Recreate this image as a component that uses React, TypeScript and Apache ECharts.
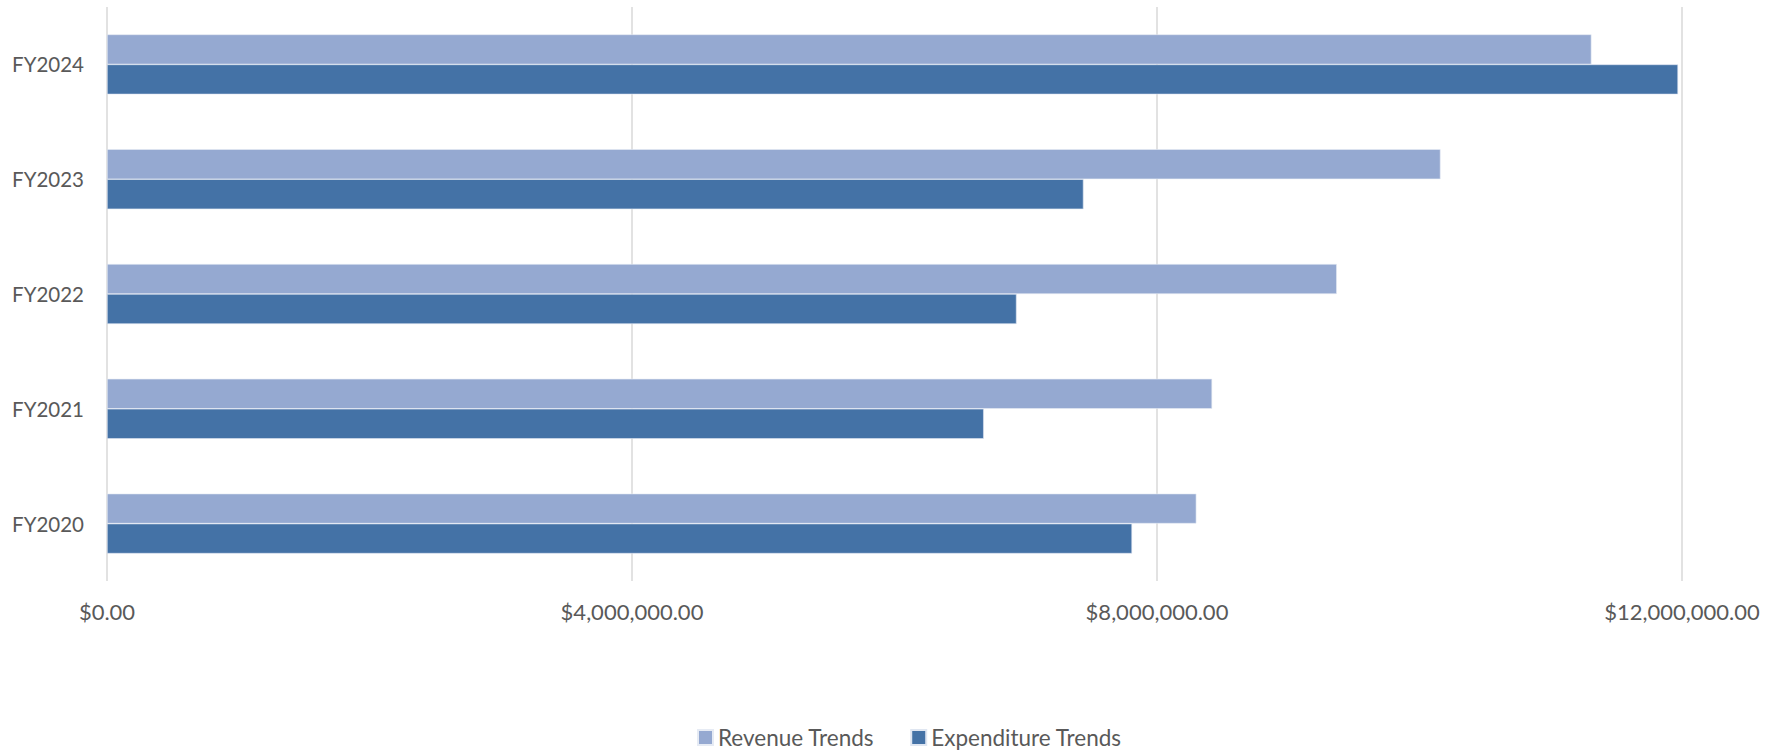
import React, { useEffect, useRef } from "react";
import * as echarts from "echarts";

const categories = ["FY2020", "FY2021", "FY2022", "FY2023", "FY2024"];
const revenue = [8300000, 8420000, 9370000, 10160000, 11310000];
const expenditure = [7810000, 6680000, 6930000, 7440000, 11970000];
const xTicks = { min: 0, max: 12000000, interval: 4000000 };

const fmt = (v: number) =>
  "$" + v.toLocaleString("en-US", { minimumFractionDigits: 2, maximumFractionDigits: 2 });

export default function App() {
  const ref = useRef<HTMLDivElement>(null);
  useEffect(() => {
    if (!ref.current) return;
    const chart = echarts.init(ref.current, null, { renderer: "svg" });
    const font = "Lato, 'Open Sans', sans-serif";
    chart.setOption({
      animation: false,
      textStyle: { fontFamily: font },
      grid: { left: 107, right: 90, top: 7, bottom: 175, containLabel: false },
      legend: {
        data: ["Revenue Trends", "Expenditure Trends"],
        bottom: 2,
        left: 692,
        icon: "rect",
        itemWidth: 15,
        itemHeight: 15,
        itemGap: 36,
        textStyle: { color: "#595959", fontSize: 22.5, fontFamily: font },
      },
      xAxis: {
        type: "value",
        min: xTicks.min,
        max: xTicks.max,
        interval: xTicks.interval,
        axisLine: { show: false },
        axisTick: { show: false },
        splitLine: { show: true, lineStyle: { color: "#d9d9d9", width: 1.5 } },
        axisLabel: { color: "#595959", fontSize: 22, margin: 19, formatter: fmt, fontFamily: font },
      },
      yAxis: {
        type: "category",
        data: categories,
        axisLine: { show: false },
        axisTick: { show: false },
        axisLabel: { color: "#595959", fontSize: 20.5, margin: 23, fontFamily: font },
      },
      series: [
        {
          name: "Revenue Trends",
          type: "bar",
          data: revenue,
          barWidth: 30,
          barGap: "0%",
          itemStyle: { color: "#95a9d1", borderColor: "#e6ebf4", borderWidth: 0.6 },
        },
        {
          name: "Expenditure Trends",
          type: "bar",
          data: expenditure,
          barWidth: 30,
          barGap: "0%",
          itemStyle: { color: "#4472a6", borderColor: "#dfe6f1", borderWidth: 0.6 },
        },
      ],
    });
    return () => chart.dispose();
  }, []);
  return (
    <div
      ref={ref}
      style={{ position: "absolute", left: 0, top: 0, width: 1772, height: 756, background: "#fff" }}
    />
  );
}
